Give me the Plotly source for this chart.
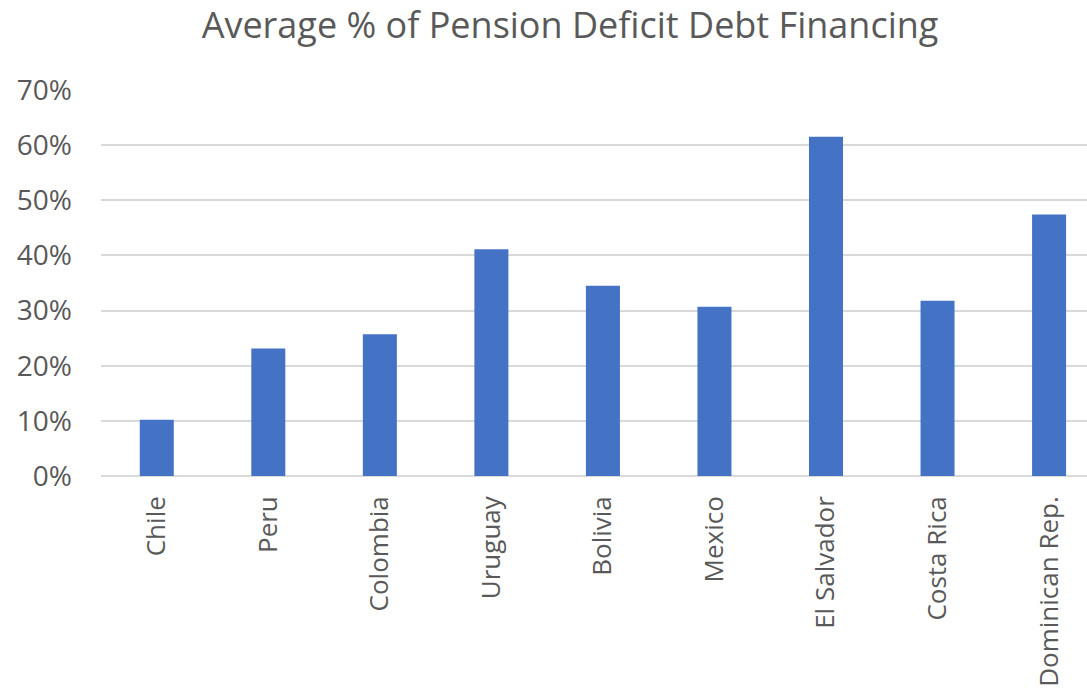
import plotly.graph_objects as go

countries = ["Chile", "Peru", "Colombia", "Uruguay", "Bolivia",
             "Mexico", "El Salvador", "Costa Rica", "Dominican Rep."]
debt_share = [0.102, 0.231, 0.257, 0.411, 0.345, 0.307, 0.615, 0.318, 0.474]
y_ticks = [0, 0.1, 0.2, 0.3, 0.4, 0.5, 0.6, 0.7]

text_color = "#595959"
font_family = "Open Sans, Noto Sans, sans-serif"

fig = go.Figure(
    go.Bar(
        x=countries,
        y=debt_share,
        marker=dict(color="#4472C4", line=dict(width=0)),
        width=0.305,
    )
)

fig.update_layout(
    width=1087,
    height=689,
    paper_bgcolor="white",
    plot_bgcolor="white",
    margin=dict(l=101, r=0, t=90, b=213),
    showlegend=False,
    font=dict(family=font_family, color=text_color),
    title=dict(
        text="Average % of Pension Deficit Debt Financing",
        x=570 / 1087,
        xanchor="center",
        xref="container",
        y=1 - 25 / 689,
        yanchor="middle",
        font=dict(size=36, color=text_color, family=font_family),
    ),
)

fig.update_xaxes(
    type="category",
    range=[-0.5, 8.34],
    tickangle=-90,
    tickfont=dict(size=26, color=text_color),
    showgrid=False,
    showline=False,
    ticks="",
    ticklabelstandoff=14,
)

fig.update_yaxes(
    range=[0, 0.7],
    tickvals=y_ticks,
    tickformat=".0%",
    tickfont=dict(size=28, color=text_color),
    showgrid=True,
    gridcolor="#d9d9d9",
    gridwidth=1.5,
    zeroline=True,
    zerolinecolor="#d9d9d9",
    zerolinewidth=1.5,
    showline=False,
    ticks="",
    ticklabelstandoff=28,
)

fig.write_html("out.html")
